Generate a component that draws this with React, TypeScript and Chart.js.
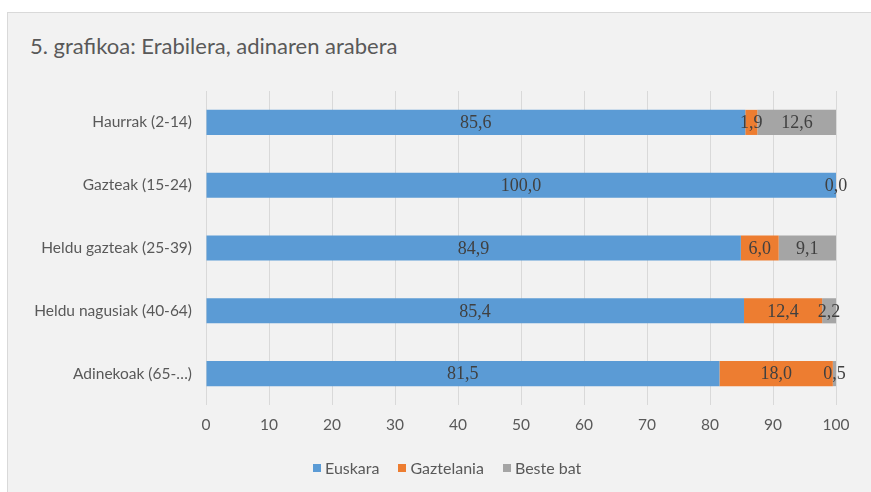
import React, { useEffect, useRef } from "react";
import { Chart, registerables } from "chart.js";
Chart.register(...registerables);

const categories = ["Haurrak (2-14)", "Gazteak (15-24)", "Heldu gazteak (25-39)", "Heldu nagusiak (40-64)", "Adinekoak (65-…)"];
const euskara = [85.6, 100.0, 84.9, 85.4, 81.5];
const gaztelania = [1.9, 0.0, 6.0, 12.4, 18.0];
const besteBat = [12.6, 0.0, 9.1, 2.2, 0.5];
const xTicks = [0, 10, 20, 30, 40, 50, 60, 70, 80, 90, 100];
const seriesNames = ["Euskara", "Gaztelania", "Beste bat"];
const colors = ["#5b9bd5", "#ed7d31", "#a5a5a5"];
const title = "5. grafikoa: Erabilera, adinaren arabera";

const SANS = "Lato, 'Open Sans', sans-serif";

const labelPlugin = {
  id: "segLabels",
  afterDatasetsDraw(chart: any) {
    const ctx = chart.ctx;
    const xs = chart.scales.x;
    ctx.save();
    ctx.font = "18px 'Liberation Serif', 'DejaVu Serif', serif";
    ctx.fillStyle = "#404040";
    ctx.textAlign = "center";
    ctx.textBaseline = "middle";
    const drawn: Record<string, boolean> = {};
    chart.data.datasets.forEach((ds: any, di: number) => {
      const meta = chart.getDatasetMeta(di);
      meta.data.forEach((bar: any, i: number) => {
        const v = ds.data[i];
        if (v === null || v === undefined) return;
        let start = 0;
        for (let k = 0; k < di; k++) start += chart.data.datasets[k].data[i] || 0;
        const cx = xs.getPixelForValue(start + v / 2);
        const key = Math.round(cx) + "_" + Math.round(bar.y);
        if (drawn[key]) return;
        drawn[key] = true;
        ctx.fillText(v.toFixed(1).replace(".", ","), cx, bar.y + 1);
      });
    });
    ctx.restore();
  },
};

export default function App() {
  const ref = useRef<HTMLCanvasElement>(null);
  useEffect(() => {
    const data = [euskara, gaztelania, besteBat];
    const chart = new Chart(ref.current!, {
      type: "bar",
      data: {
        labels: categories,
        datasets: data.map((d, i) => ({
          label: seriesNames[i],
          data: d,
          backgroundColor: colors[i],
          borderWidth: 0,
          categoryPercentage: 1,
          barPercentage: 0.4,
        })),
      },
      options: {
        indexAxis: "y",
        animation: false,
        responsive: true,
        maintainAspectRatio: false,
        layout: { padding: { top: 78, right: 35, bottom: 0, left: 0 } },
        plugins: { legend: { display: false }, tooltip: { enabled: false } },
        scales: {
          x: {
            stacked: true,
            min: 0,
            max: 100,
            afterBuildTicks: (s: any) => {
              s.ticks = xTicks.map((v) => ({ value: v }));
            },
            afterFit: (s: any) => {
              s.height = 87;
            },
            grid: { color: "#d9d9d9", lineWidth: 1, drawTicks: false },
            border: { display: false },
            ticks: { color: "#595959", font: { family: SANS, size: 15.5 }, padding: 11 },
          },
          y: {
            stacked: true,
            afterFit: (s: any) => {
              s.width = 198;
            },
            grid: { display: false, drawTicks: false },
            border: { display: false },
            ticks: { color: "#595959", font: { family: SANS, size: 15.5 }, padding: 14 },
          },
        },
      },
      plugins: [labelPlugin],
    });
    return () => chart.destroy();
  }, []);

  return (
    <div style={{ position: "absolute", left: 0, top: 0, width: 871, height: 492, background: "#ffffff", overflow: "hidden" }}>
      <div
        style={{
          position: "absolute",
          left: 7,
          top: 12,
          width: 864,
          height: 480,
          background: "#f2f2f2",
          borderLeft: "1px solid #d9d9d9",
          borderTop: "1px solid #d9d9d9",
          boxSizing: "border-box",
        }}
      />
      <div
        style={{
          position: "absolute",
          left: 30,
          top: 32,
          fontFamily: SANS,
          fontSize: 22,
          color: "#595959",
          whiteSpace: "nowrap",
          lineHeight: "28px",
        }}
      >
        {title}
      </div>
      <div style={{ position: "absolute", left: 8, top: 13, width: 863, height: 479 }}>
        <canvas ref={ref} />
      </div>
      <div
        style={{
          position: "absolute",
          left: 313,
          top: 458,
          display: "flex",
          alignItems: "center",
          fontFamily: SANS,
          fontSize: 16,
          color: "#595959",
          whiteSpace: "nowrap",
          lineHeight: "20px",
        }}
      >
        {seriesNames.map((n, i) => (
          <span key={n} style={{ display: "flex", alignItems: "center", marginRight: 19 }}>
            <span style={{ width: 8, height: 8, background: colors[i], display: "inline-block", marginRight: 4 }} />
            {n}
          </span>
        ))}
      </div>
    </div>
  );
}
